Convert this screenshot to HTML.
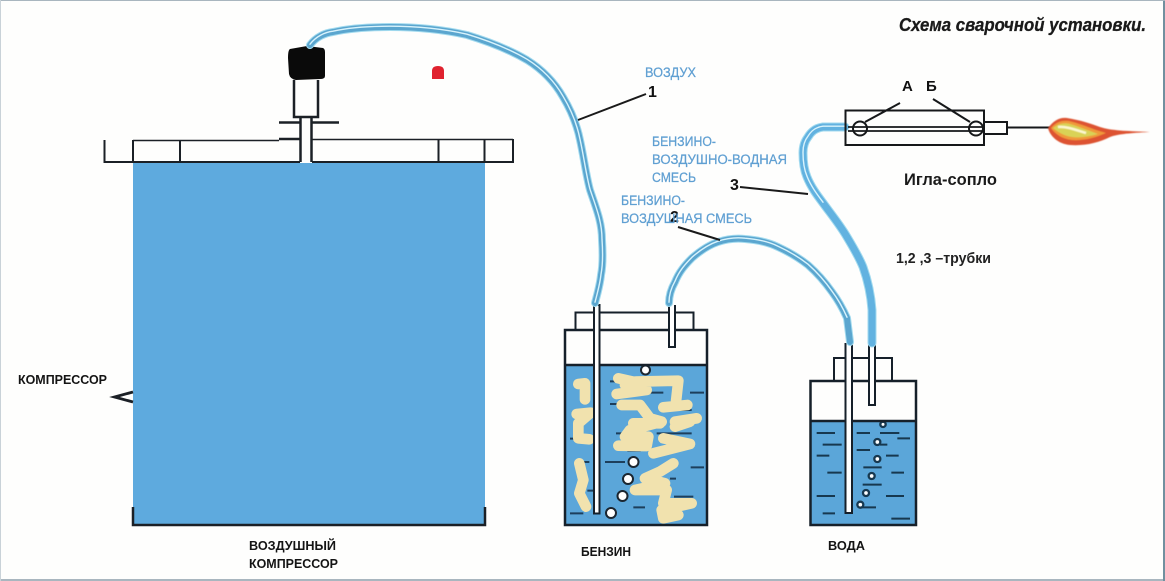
<!DOCTYPE html>
<html><head><meta charset="utf-8"><style>
html,body{margin:0;padding:0;background:#fff}
svg{display:block}
text{font-family:"Liberation Sans",sans-serif}
</style></head><body>
<svg width="1165" height="581" viewBox="0 0 1165 581" xmlns="http://www.w3.org/2000/svg">
<defs>
<filter id="soft" x="-5%" y="-5%" width="110%" height="110%"><feGaussianBlur stdDeviation="0.5"/></filter>
</defs>
<rect width="1165" height="581" fill="#fefefd"/>
<rect x="0" y="579" width="1165" height="2" fill="#a9b6bf"/>
<rect x="1163" y="0" width="2" height="581" fill="#71909f"/>
<rect x="0" y="0" width="1165" height="1" fill="#a9b6bf"/>
<rect x="0" y="0" width="1" height="581" fill="#c9d2d8"/>

<!-- compressor -->
<rect x="133" y="163" width="352" height="361" fill="#5eaade"/>
<g fill="none" stroke="#1b2026" stroke-width="2">
<path d="M104.500 140V162H133M133 140V162M180 140V162M438.500 140V162M484.500 140V162M513 139V162H485"/>
<path d="M133 140.500H279M312 139.500H513" stroke-width="1.500"/>
<path d="M133 162H300M312 162H485"/>
<path d="M133 507V525H485V507" stroke-width="2.500"/>
<path d="M300.500 118V162M311.500 118V162" stroke-width="2.500"/>
<path d="M279 122.500H300M312 122.500H339M279 139H300" stroke-width="2.500"/>
<path d="M294 80V117H318V80" stroke-width="2.500"/>
<path d="M133 392L114.500 397L133 402" stroke-width="2.800"/>
</g>
<path d="M290 49L307 46L323 48Q325 49 325 52L325 76Q325 79 320 79L296 80Q290 79 289 74L288 58Q288 50 290 49Z" fill="#0a0a0a"/>

<!-- bottle 1 -->
<rect x="565" y="365" width="142" height="160" fill="#5ba6d9"/>
<g transform="translate(550 290) scale(.33333)" fill="none" stroke-linecap="butt">
<g stroke="#1d3f5c" stroke-width="6">
<path d="M180 274H200M420 308H462M280 308H340M180 342H225M355 360H425M198 430H215M320 430H425M60 446H78M232 482H272M165 516H225M95 516H118M422 532H462M360 566H378M112 602H132M372 620H430M250 652H285M60 670H100"/>
</g>
<g stroke="#f1e2ae" stroke-width="32" stroke-linecap="round" stroke-linejoin="round" filter="url(#soft)">
<path d="M85 282L105 280L105 328"/>
<path d="M80 372L122 368L85 400L85 445L118 448"/>
<path d="M88 520L100 570L88 610L108 650"/>
<path d="M205 265L250 275L385 272L378 335M340 352L412 345M200 312L290 300M225 285L255 300"/>
<path d="M215 345L270 345L300 385L335 395L240 420L225 440L295 440L290 468L205 467M250 400L330 400"/>
<path d="M375 395L440 385M375 410L420 395"/>
<path d="M310 490L420 462L340 445"/>
<path d="M370 520L330 545L285 565L345 580L255 600L350 600L340 640L425 640L335 660L340 685L385 675"/>
</g>
</g>
<g fill="#fff" stroke="#1b2630" stroke-width="2">
<circle cx="645.500" cy="370" r="4.500"/><circle cx="633.500" cy="462" r="5"/><circle cx="628" cy="479" r="5"/><circle cx="622.500" cy="496" r="5"/><circle cx="611" cy="513" r="5"/>
</g>
<g fill="none" stroke="#16202a" stroke-width="2">
<path d="M565 330H707V525H565ZM565 365H707" stroke-width="2.500"/>
<path d="M575.500 330V312.500H693.500V330"/>
</g>
<path d="M594 305H599.500V513.500H594Z" fill="#fff" stroke="#16202a" stroke-width="2"/>
<path d="M669 305V347H675V305" fill="#fff" stroke="#16202a" stroke-width="2"/>

<!-- bottle 2 -->
<rect x="811" y="421" width="105" height="104" fill="#5ba6d9"/>
<g transform="translate(790 320) scale(.33333)" fill="none" stroke="#17384f" stroke-width="6">
<path d="M80 339H135M98 374H155M80 407H118M112 458H155M80 528H135M98 580H135M200 339H240M200 390H240M270 339H328M322 355H360M270 374H292M288 407H326M220 442H275M304 458H342M218 494H275M288 528H342M215 562H258M304 596H360"/>
<g fill="#fff" stroke-width="7"><circle cx="279" cy="313" r="8"/><circle cx="262" cy="366" r="9"/><circle cx="262" cy="417" r="9"/><circle cx="245" cy="468" r="9"/><circle cx="228" cy="519" r="9"/><circle cx="211" cy="554" r="9"/></g>
</g>
<g fill="none" stroke="#16202a" stroke-width="2.500">
<path d="M810.500 381H916V525H810.500ZM810.500 421H916"/>
<path d="M834 381V358H892V381" stroke-width="2"/>
</g>
<path d="M845.500 343V513H852V343" fill="#fff" stroke="#16202a" stroke-width="2"/>
<path d="M869 343V405H875V343" fill="#fff" stroke="#16202a" stroke-width="2"/>

<!-- tubes -->
<g fill="none" stroke-linecap="round" stroke-linejoin="round">
<g stroke="#a3dbef" stroke-width="8">
<path d="M310 45C316 37 325 33 333 32C350 28 370 27 390 27C420 27 445 30 467 35C490 42 510 50 527 60C543 70 555 83 563 97C572 112 577 125 580 140C584 158 586 175 590 190C596 208 602 222 602 240C603 255 603 265 601 275C600 285 597 295 595 303"/>
<path d="M669 303C669 295 671 289 675 282C679 272 685 265 692 258C700 251 709 245 718 242C727 239 736 238 745 239C757 240 768 242 778 247C789 252 799 258 808 265C817 273 825 282 832 292C838 300 843 309 847 318C848 326 849 334 850 342"/>
<path d="M845 127L823 127C815 128 811 132 808 137C804 142 803 148 803 153C803 162 804 170 807 177C811 187 817 195 823 203C831 214 840 225 847 237C853 247 859 257 863 267C868 281 871 296 872 310C872 321 872 332 872 343" stroke-width="9"/>
</g>
<g stroke="#5ba6cf" stroke-width="6">
<path d="M310 45C316 37 325 33 333 32C350 28 370 27 390 27C420 27 445 30 467 35C490 42 510 50 527 60C543 70 555 83 563 97C572 112 577 125 580 140C584 158 586 175 590 190C596 208 602 222 602 240C603 255 603 265 601 275C600 285 597 295 595 303"/>
<path d="M669 303C669 295 671 289 675 282C679 272 685 265 692 258C700 251 709 245 718 242C727 239 736 238 745 239C757 240 768 242 778 247C789 252 799 258 808 265C817 273 825 282 832 292C838 300 843 309 847 318C848 326 849 334 850 342"/>
<path d="M845 127L823 127C815 128 811 132 808 137C804 142 803 148 803 153C803 162 804 170 807 177C811 187 817 195 823 203C831 214 840 225 847 237C853 247 859 257 863 267C868 281 871 296 872 310C872 321 872 332 872 343" stroke-width="7" stroke="#62b2e0"/>
</g>
<g stroke="#d8f3fc" stroke-width="1.400" transform="translate(0 -0.800)">
<path d="M310 45C316 37 325 33 333 32C350 28 370 27 390 27C420 27 445 30 467 35C490 42 510 50 527 60C543 70 555 83 563 97C572 112 577 125 580 140C584 158 586 175 590 190C596 208 602 222 602 240C603 255 603 265 601 275C600 285 597 295 595 303"/>
<path d="M669 303C669 295 671 289 675 282C679 272 685 265 692 258C700 251 709 245 718 242C727 239 736 238 745 239C757 240 768 242 778 247C789 252 799 258 808 265C817 273 825 282 832 292C838 300 843 309 847 318"/>
<path d="M845 127L823 127C815 128 811 132 808 137C804 142 803 148 803 153C803 162 804 170 807 177C811 187 817 195 823 203"/>
</g>
</g>

<!-- leaders -->
<g stroke="#1a1a1a" stroke-width="2" fill="none">
<path d="M578 120L646 94M678 227L720 240M740 187L808 194"/>
</g>
<path d="M432 79V71Q432 66 438 66Q444 66 444 71V79Z" fill="#e0222f"/>

<!-- torch -->
<g fill="none" stroke="#16181a" stroke-width="2">
<rect x="845.500" y="110.500" width="138.500" height="34.500"/>
<path d="M848 127H984M848 131H984" stroke-width="1.800"/>
<circle cx="860" cy="128.500" r="7"/>
<circle cx="976" cy="128.500" r="7"/>
<rect x="984" y="122" width="23" height="12"/>
<path d="M1007 127.500H1050M865 122L900 103M970 122L933 99"/>
</g>
<g filter="url(#soft)">
<path d="M1048 128C1054 120 1060 117 1067 118C1080 120 1092 124 1100 127C1112 131 1130 131 1150 132C1130 133 1118 134 1110 137C1098 143 1085 146 1070 145C1058 144 1050 136 1048 128Z" fill="#dd5330"/>
<path d="M1051 128C1056 122 1062 120 1069 121C1082 124 1094 130 1106 133C1095 138 1082 141 1072 140C1062 139 1055 134 1051 128Z" fill="#f0993a"/>
<path d="M1053 128C1058 124 1064 122 1070 124C1080 127 1090 131 1098 134C1088 137 1078 138 1072 137C1064 136 1058 132 1053 128Z" fill="#d9d256"/>
<path d="M1058 127C1066 126 1076 130 1086 133" stroke="#fdf8cf" stroke-width="2.500" fill="none"/>
</g>

<!-- black text -->
<text x="899" y="31" font-size="18.500" font-weight="bold" font-style="italic" fill="#1a1a1a" stroke="#1a1a1a" stroke-width=".3" textLength="247" lengthAdjust="spacingAndGlyphs">Схема сварочной установки.</text>
<text x="902" y="91" font-size="15" font-weight="bold" fill="#111">А</text>
<text x="926" y="91" font-size="15" font-weight="bold" fill="#111">Б</text>
<text x="904" y="185" font-size="17" font-weight="bold" fill="#1a1a1a" textLength="93" lengthAdjust="spacingAndGlyphs">Игла-сопло</text>
<text x="896" y="263" font-size="15" font-weight="bold" fill="#222" textLength="95" lengthAdjust="spacingAndGlyphs">1,2 ,3 –трубки</text>
<text x="648" y="97" font-size="16" font-weight="bold" fill="#111">1</text>
<text x="670" y="222" font-size="16" font-weight="bold" fill="#111">2</text>
<text x="730" y="190" font-size="16" font-weight="bold" fill="#111">3</text>

<!-- blue labels -->
<g font-size="13.500" fill="#5f9fd2" stroke="#5f9fd2" stroke-width=".25">
<text x="645" y="77" textLength="51" lengthAdjust="spacingAndGlyphs">ВОЗДУХ</text>
<text x="652" y="146" textLength="64" lengthAdjust="spacingAndGlyphs">БЕНЗИНО-</text>
<text x="652" y="164" textLength="135" lengthAdjust="spacingAndGlyphs">ВОЗДУШНО-ВОДНАЯ</text>
<text x="652" y="182" textLength="44" lengthAdjust="spacingAndGlyphs">СМЕСЬ</text>
<text x="621" y="205" textLength="64" lengthAdjust="spacingAndGlyphs">БЕНЗИНО-</text>
<text x="621" y="223" textLength="131" lengthAdjust="spacingAndGlyphs">ВОЗДУШНАЯ СМЕСЬ</text>
</g>
<g font-size="13" fill="#141414" font-weight="bold">
<text x="18" y="384" textLength="89" lengthAdjust="spacingAndGlyphs">КОМПРЕССОР</text>
<text x="249" y="550" textLength="87" lengthAdjust="spacingAndGlyphs">ВОЗДУШНЫЙ</text>
<text x="249" y="568" textLength="89" lengthAdjust="spacingAndGlyphs">КОМПРЕССОР</text>
<text x="581" y="556" textLength="50" lengthAdjust="spacingAndGlyphs">БЕНЗИН</text>
<text x="828" y="550" textLength="37" lengthAdjust="spacingAndGlyphs">ВОДА</text>
</g>
</svg>
</body></html>
